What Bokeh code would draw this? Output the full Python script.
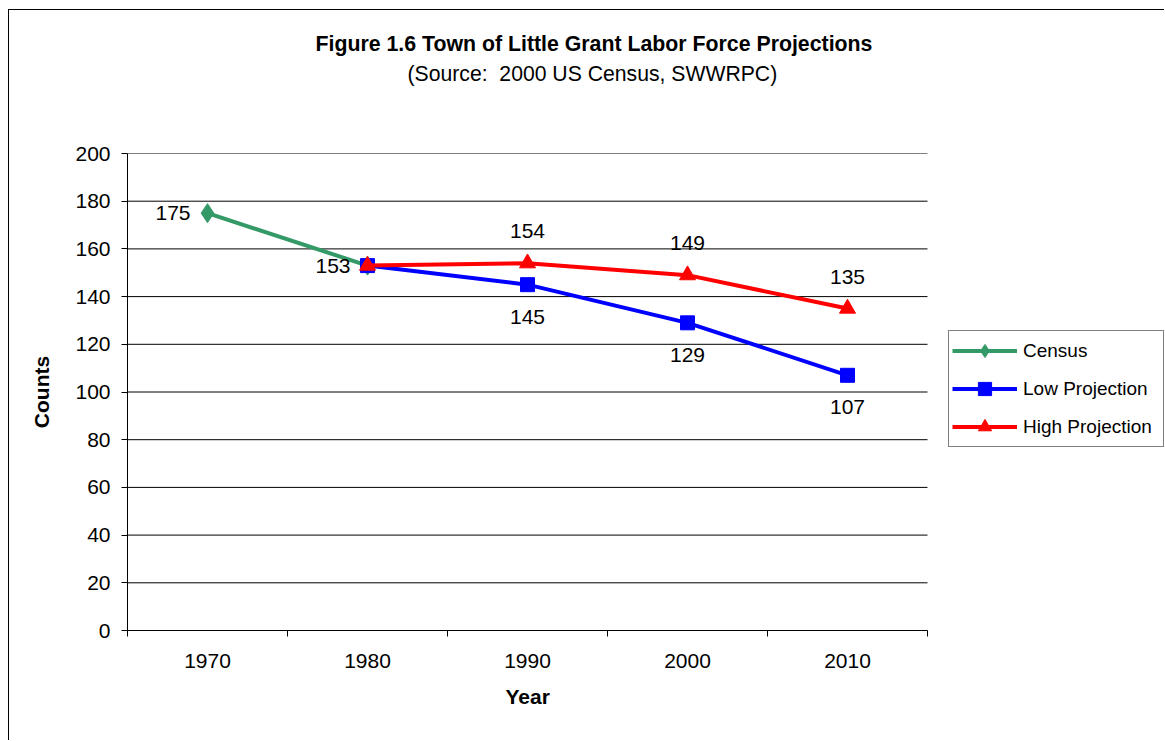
from bokeh.plotting import figure
from bokeh.models import (Range1d, FixedTicker, Legend, LegendItem, Title,
                          ColumnDataSource)
from bokeh.core.properties import value
from bokeh.embed import file_html
from bokeh.resources import INLINE

# ---- data ----
years = [1970, 1980, 1990, 2000, 2010]
census_years = [1970, 1980]
census = [175, 153]
proj_years = [1980, 1990, 2000, 2010]
low_proj = [153, 145, 129, 107]
high_proj = [153, 154, 149, 135]
y_ticks = [0, 20, 40, 60, 80, 100, 120, 140, 160, 180, 200]
title_text = "Figure 1.6 Town of Little Grant Labor Force Projections"
subtitle_text = "(Source:\u00a0 2000 US Census, SWWRPC)"
x_title = "Year"
y_title = "Counts"

FONT = "Liberation Sans"
GREEN = "#339966"
BLUE = "#0000FF"
RED = "#FF0000"

x_lo, x_hi = years[0] - 5, years[-1] + 5          # category area
x_view_hi = x_lo + (x_hi - x_lo) * 1038 / 800       # extra room on the right for the legend

p = figure(width=1156, height=731, output_backend="svg", toolbar_location=None,
           x_range=Range1d(x_lo, x_view_hi), y_range=Range1d(0, 200),
           min_border_left=118, min_border_top=143, min_border_right=0,
           min_border_bottom=111)
p.title = None
p.styles = {"margin-left": "8px", "margin-top": "9px",
            "border-left": "1px solid #000000", "border-top": "1px solid #000000"}
p.outline_line_color = None
p.background_fill_color = "white"
p.border_fill_color = "white"

# x axis: labels at category centres, tick marks at category boundaries
xa = p.xaxis[0]
xa.bounds = (x_lo, x_hi)
xa.ticker = FixedTicker(ticks=years, minor_ticks=[y - 5 for y in years] + [x_hi])
xa.major_tick_in = 0
xa.major_tick_out = 0
xa.minor_tick_in = 0
xa.minor_tick_out = 6
xa.minor_tick_line_color = "black"
xa.axis_line_color = "black"
xa.major_label_text_font = FONT
xa.major_label_text_font_size = "21px"
xa.major_label_text_color = "black"
xa.major_label_standoff = 17

ya = p.yaxis[0]
ya.ticker = FixedTicker(ticks=y_ticks)
ya.major_tick_in = 0
ya.major_tick_out = 6
ya.minor_tick_out = 0
ya.minor_tick_in = 0
ya.axis_line_color = "black"
ya.major_tick_line_color = "black"
ya.major_label_text_font = FONT
ya.major_label_text_font_size = "21px"
ya.major_label_text_color = "black"
ya.major_label_standoff = 11
ya.axis_label = y_title
ya.axis_label_text_font = FONT
ya.axis_label_text_font_size = "21px"
ya.axis_label_text_font_style = "bold"
ya.axis_label_text_color = "black"
ya.axis_label_standoff = 19

# x-axis title centred under the category area
p.add_layout(Title(text=x_title, align="left", offset=378, standoff=24,
                   text_font=FONT, text_font_size="21px", text_font_style="bold",
                   text_color="black"), "below")

# horizontal gridlines limited to the category area
p.xgrid.grid_line_color = None
p.ygrid.grid_line_color = None
p.segment(x0=[x_lo] * len(y_ticks), x1=[x_hi] * len(y_ticks), y0=y_ticks, y1=y_ticks,
          line_color="#000000", line_width=1)

# series
gl = p.line(census_years, census, line_color=GREEN, line_width=4, line_join="round")
gs = p.scatter(census_years, census, marker="diamond", size=19, fill_color=GREEN,
               line_color=GREEN)
bl = p.line(proj_years, low_proj, line_color=BLUE, line_width=4, line_join="round")
bs = p.scatter(proj_years, low_proj, marker="square", size=14, fill_color=BLUE,
               line_color=BLUE)
rl = p.line(proj_years, high_proj, line_color=RED, line_width=4, line_join="round")
rs = p.scatter(proj_years, high_proj, marker="triangle", size=16, fill_color=RED,
               line_color=RED)

# data labels
lbl_kw = dict(text_font=value(FONT), text_font_size="21px", text_color="black",
              text_baseline="middle")
csrc = ColumnDataSource(dict(x=census_years, y=census, t=[str(v) for v in census]))
p.text(x="x", y="y", text="t", source=csrc, text_align="right", x_offset=-17, **lbl_kw)
hsrc = ColumnDataSource(dict(x=proj_years[1:], y=high_proj[1:],
                             t=[str(v) for v in high_proj[1:]]))
p.text(x="x", y="y", text="t", source=hsrc, text_align="center", y_offset=-32, **lbl_kw)
lsrc = ColumnDataSource(dict(x=proj_years[1:], y=low_proj[1:],
                             t=[str(v) for v in low_proj[1:]]))
p.text(x="x", y="y", text="t", source=lsrc, text_align="center", y_offset=32, **lbl_kw)

# titles: spacer (closest to plot), subtitle, then main title
p.add_layout(Title(text=" ", align="left", standoff=42, text_font=FONT,
                   text_font_size="21px"), "above")
p.add_layout(Title(text=subtitle_text, align="left", offset=280, standoff=4,
                   text_font=FONT, text_font_size="21.2px", text_font_style="normal",
                   text_color="black"), "above")
p.add_layout(Title(text=title_text, align="left", offset=188, standoff=3,
                   text_font=FONT, text_font_size="21.3px", text_font_style="bold",
                   text_color="black"), "above")

legend = Legend(items=[LegendItem(label="Census", renderers=[gl, gs]),
                       LegendItem(label="Low Projection", renderers=[bl, bs]),
                       LegendItem(label="High Projection", renderers=[rl, rs])],
                location=(821, 183), orientation="vertical",
                padding=3, spacing=5, margin=0,
                glyph_width=65, glyph_height=33, label_height=33, label_width=137,
                label_standoff=6, label_text_font=FONT, label_text_font_size="19px",
                label_text_color="black", label_text_baseline="middle",
                border_line_color="#000000", border_line_width=1,
                background_fill_color="white", background_fill_alpha=1.0)
p.add_layout(legend, "center")

open("out.html", "w").write(file_html(p, INLINE))
